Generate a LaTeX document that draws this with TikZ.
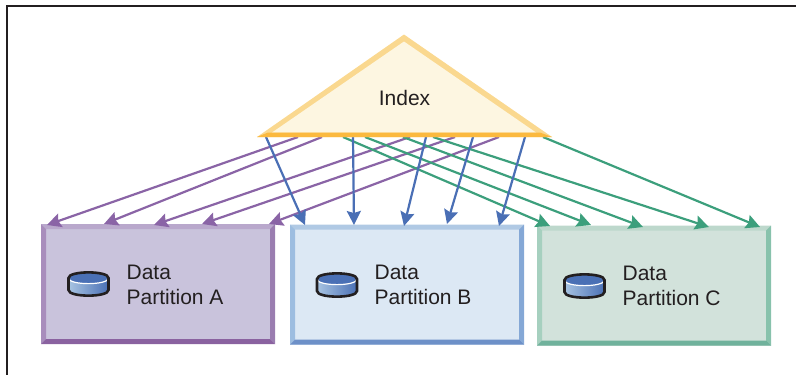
\documentclass[tikz,border=0pt]{standalone}
\usepackage{fontspec}
\setmainfont{Liberation Sans}
\usepackage{tikz}
\usetikzlibrary{arrows.meta}
\definecolor{inktext}{HTML}{231F20}
\definecolor{purpleline}{HTML}{8A64A6}
\definecolor{blueline}{HTML}{4A6FB5}
\definecolor{greenline}{HTML}{3C9F7C}
\definecolor{diskblue}{HTML}{4A70B5}
\definecolor{disklight}{HTML}{A8C4E2}
\definecolor{fillA}{RGB}{201,195,220}
\definecolor{topA}{RGB}{185,168,204}
\definecolor{leftA}{RGB}{168,141,188}
\definecolor{rightA}{RGB}{154,125,176}
\definecolor{bottomA}{RGB}{138,98,160}
\definecolor{fillB}{RGB}{220,232,244}
\definecolor{topB}{RGB}{176,201,228}
\definecolor{leftB}{RGB}{157,189,224}
\definecolor{rightB}{RGB}{133,168,214}
\definecolor{bottomB}{RGB}{109,144,200}
\definecolor{fillC}{RGB}{210,226,219}
\definecolor{topC}{RGB}{189,216,204}
\definecolor{leftC}{RGB}{166,208,191}
\definecolor{rightC}{RGB}{136,194,172}
\definecolor{bottomC}{RGB}{112,178,156}
\definecolor{indexedge}{RGB}{250,216,143}
\definecolor{indexfill}{RGB}{253,246,225}
\definecolor{indexbase}{RGB}{251,185,63}
\tikzset{
    label text/.style={font=\fontsize{21}{25}\selectfont, text=inktext, inner sep=0pt},
    part/.style={minimum width=234pt, minimum height=120pt, inner sep=0pt, outer sep=0pt},
    to A/.style={->, draw=purpleline},
    to B/.style={->, draw=blueline},
    to C/.style={->, draw=greenline},
    disk/.pic={
        \shade[left color=disklight, right color=diskblue] (-20,-6) -- (-20,6) .. controls (-20,13.5) and (20,13.5) .. (20,6) -- (20,-6) -- cycle;
        \fill[diskblue] (-20,-6) .. controls (-20,-13.5) and (20,-13.5) .. (20,-6) .. controls (20,1.5) and (-20,1.5) .. (-20,-6) -- cycle;
        \draw[white, line width=1.2pt] (-20,-6) .. controls (-20,1.5) and (20,1.5) .. (20,-6);
        \draw[inktext, line width=2.6pt] (-20,-6) -- (-20,6) .. controls (-20,13.5) and (20,13.5) .. (20,6) -- (20,-6) .. controls (20,-13.5) and (-20,-13.5) .. (-20,-6) -- cycle;
    }
}
% side strips of a partition box
\newcommand{\bevel}[1]{
    \fill[top#1] (#1.north west) -- (#1.north east) -- ++(-5,5) -- ++(-224,0) -- cycle;
    \fill[left#1] (#1.north west) -- (#1.south west) -- ++(5,-5) -- ++(0,-110) -- cycle;
    \fill[right#1] (#1.north east) -- (#1.south east) -- ++(-5,-5) -- ++(0,-110) -- cycle;
    \fill[bottom#1] (#1.south west) -- (#1.south east) -- ++(-5,-5) -- ++(-224,0) -- cycle;
}
\begin{document}
\begin{tikzpicture}[x=1pt,y=-1pt,>={Stealth[length=14pt,width=14pt,inset=2pt]},line width=2.2pt]
    \useasboundingbox (0,0) rectangle (796,375);

    \coordinate (FL) at (7,375);
    \coordinate (FC) at (7,6);
    \coordinate (FR) at (796,6);
    \draw[inktext, line width=2.4pt] (FL) -- (FC) -- (FR);

    \node[part, fill=fillA] (A) at (158,284) {};
    \node[part, fill=fillB] (B) at (407,284.5) {};
    \node[part, fill=fillC] (C) at (654,285.5) {};
    \bevel{A}
    \bevel{B}
    \bevel{C}

    \pic at (88.5,284) {disk};
    \pic at (337,285) {disk};
    \pic at (584.5,286) {disk};
    \node[label text, anchor=west, align=left] (LA) at (125.5,285) {Data\\Partition A};
    \node[label text, anchor=west, align=left] (LB) at (373.5,285) {Data\\Partition B};
    \node[label text, anchor=west, align=left] (LC) at (621.5,286) {Data\\Partition C};

    \coordinate (IA1) at (298,137);
    \coordinate (IA2) at (322,137);
    \coordinate (IA3) at (410,137);
    \coordinate (IA4) at (455,137);
    \coordinate (IA5) at (499,137);
    \coordinate (TA1) at (47,225);
    \coordinate (TA2) at (104,224);
    \coordinate (TA3) at (154,225);
    \coordinate (TA4) at (202,224);
    \coordinate (TA5) at (269,224);
    \path (IA1) edge[to A] (TA1);
    \path (IA2) edge[to A] (TA2);
    \path (IA3) edge[to A] (TA3);
    \path (IA4) edge[to A] (TA4);
    \path (IA5) edge[to A] (TA5);

    \coordinate (IC1) at (343,137);
    \coordinate (IC2) at (365,137);
    \coordinate (IC3) at (403,137);
    \coordinate (IC4) at (433,137);
    \coordinate (IC5) at (543,137);
    \coordinate (TC1) at (550,226);
    \coordinate (TC2) at (591,225);
    \coordinate (TC3) at (643,227);
    \coordinate (TC4) at (709,227);
    \coordinate (TC5) at (760,227);
    \path (IC1) edge[to C] (TC1);
    \path (IC2) edge[to C] (TC2);
    \path (IC3) edge[to C] (TC3);
    \path (IC4) edge[to C] (TC4);
    \path (IC5) edge[to C] (TC5);

    \coordinate (IB1) at (266,137);
    \coordinate (IB2) at (353,137);
    \coordinate (IB3) at (426,137);
    \coordinate (IB4) at (473,137);
    \coordinate (IB5) at (525,137);
    \coordinate (TB1) at (305,225);
    \coordinate (TB2) at (354,225);
    \coordinate (TB3) at (404,226);
    \coordinate (TB4) at (447,224);
    \coordinate (TB5) at (499,226);
    \path (IB1) edge[to B] (TB1);
    \path (IB2) edge[to B] (TB2);
    \path (IB3) edge[to B] (TB3);
    \path (IB4) edge[to B] (TB4);
    \path (IB5) edge[to B] (TB5);

    \fill[indexedge] (404,34.5) -- (257,137) -- (552,137) -- cycle;
    \fill[indexfill] (404,41.5) -- (272,132.5) -- (536,132.5) -- cycle;
    \fill[indexbase] (257,137) -- (552,137) -- (540,132.5) -- (268,132.5) -- cycle;
    \node[label text, anchor=base] (Index) at (404.5,105.5) {Index};
\end{tikzpicture}
\end{document}
